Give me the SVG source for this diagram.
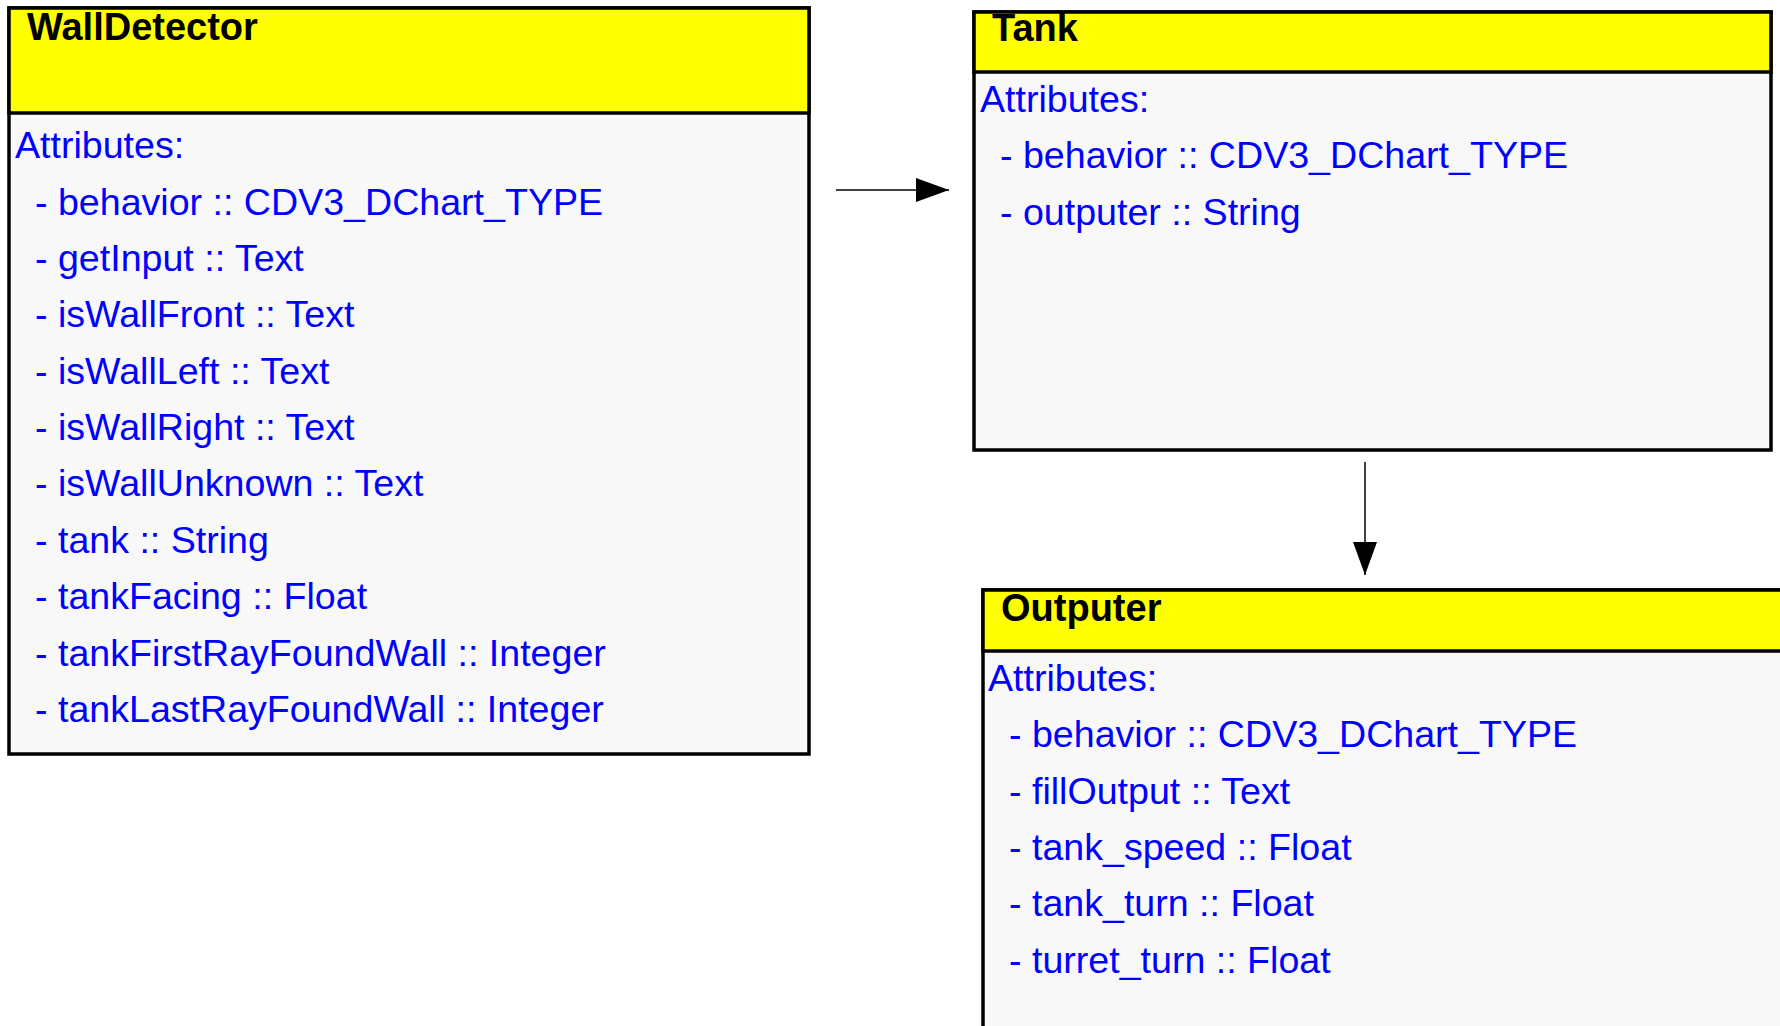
<svg xmlns="http://www.w3.org/2000/svg" width="1780" height="1026" viewBox="0 0 1780 1026">
  <style>
    .body { fill: #f8f8f8; stroke: #000; stroke-width: 3.5; }
    .head { fill: #ffff00; stroke: #000; stroke-width: 3.5; }
    .title { font-family: "Liberation Sans", Arial, sans-serif; font-size: 38px; font-weight: bold; fill: #000; }
    .attr { font-family: "Liberation Sans", Arial, sans-serif; font-size: 37.6px; fill: #0000ff; }
    .edge { stroke: #000; stroke-width: 1.5; fill: none; }
  </style>
  <defs>
    <marker id="arrow" markerUnits="userSpaceOnUse" markerWidth="34" markerHeight="26" refX="33" refY="12" orient="auto">
      <path d="M0,0 L33,12 L0,24 Z" fill="#000"/>
    </marker>
  </defs>
  <rect width="1780" height="1026" fill="#fff"/>

  <!-- WallDetector class -->
  <g id="wallDetector">
    <rect class="body" x="9" y="8" width="800" height="746"/>
    <rect class="head" x="9" y="8" width="800" height="105"/>
    <text class="title" x="27" y="40">WallDetector</text>
    <text class="attr" x="15" y="158">Attributes:</text>
    <text class="attr" x="35" y="214.5">- behavior :: CDV3_DChart_TYPE</text>
    <text class="attr" x="35" y="271">- getInput :: Text</text>
    <text class="attr" x="35" y="327">- isWallFront :: Text</text>
    <text class="attr" x="35" y="383.5">- isWallLeft :: Text</text>
    <text class="attr" x="35" y="440">- isWallRight :: Text</text>
    <text class="attr" x="35" y="496">- isWallUnknown :: Text</text>
    <text class="attr" x="35" y="553">- tank :: String</text>
    <text class="attr" x="35" y="609">- tankFacing :: Float</text>
    <text class="attr" x="35" y="665.5">- tankFirstRayFoundWall :: Integer</text>
    <text class="attr" x="35" y="722">- tankLastRayFoundWall :: Integer</text>
  </g>

  <!-- Tank class -->
  <g id="tank">
    <rect class="body" x="974" y="12" width="797" height="438"/>
    <rect class="head" x="974" y="12" width="797" height="60"/>
    <text class="title" x="992" y="41">Tank</text>
    <text class="attr" x="980" y="112">Attributes:</text>
    <text class="attr" x="1000" y="168">- behavior :: CDV3_DChart_TYPE</text>
    <text class="attr" x="1000" y="225">- outputer :: String</text>
  </g>

  <!-- Outputer class -->
  <g id="outputer">
    <rect class="body" x="983" y="590" width="800" height="445"/>
    <rect class="head" x="983" y="590" width="800" height="61"/>
    <text class="title" x="1001" y="621">Outputer</text>
    <text class="attr" x="988" y="691">Attributes:</text>
    <text class="attr" x="1009" y="747">- behavior :: CDV3_DChart_TYPE</text>
    <text class="attr" x="1009" y="803.5">- fillOutput :: Text</text>
    <text class="attr" x="1009" y="860">- tank_speed :: Float</text>
    <text class="attr" x="1009" y="916">- tank_turn :: Float</text>
    <text class="attr" x="1009" y="973">- turret_turn :: Float</text>
  </g>

  <!-- Connectors -->
  <g id="connectors">
    <line class="edge" x1="836" y1="190" x2="949" y2="190" marker-end="url(#arrow)"/>
    <line class="edge" x1="1365" y1="462" x2="1365" y2="575" marker-end="url(#arrow)"/>
  </g>
</svg>
